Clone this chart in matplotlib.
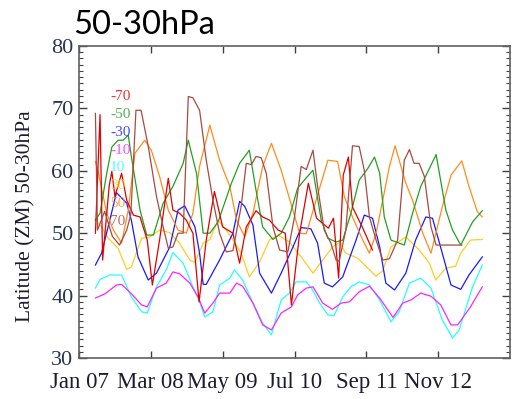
import numpy as np
import matplotlib
matplotlib.use("Agg")
import matplotlib.pyplot as plt
from matplotlib.ticker import MultipleLocator

# months since Jan 2007
m_n70 = [3.2, 4.1, 4.6, 5.9, 6.4, 7.0, 8.3, 9.3, 10.6, 11.9, 13.3, 14.3, 15.7, 17.4, 18.3, 19.6, 20.9, 22.2,
         23.4, 24.8, 26.4, 28.0, 30.0, 31.3, 32.6, 34.5, 35.8, 37.1, 38.8, 40.2, 41.4, 43.0, 44.7, 46.3,
         48.6, 49.6, 50.6, 51.5, 52.5, 53.3, 55.2, 57.2]
v_n70 = [50.0, 69.0, 45.7, 57.7, 59.9, 55.9, 59.6, 55.3, 52.9, 52.6, 48.9, 41.7, 48.9, 58.8, 53.7, 53.2, 52.1, 50.0,
         39.0, 48.9, 56.7, 51.0, 50.0, 45.2, 51.0, 53.6, 52.6, 52.1, 50.5, 50.0, 38.5, 50.0, 58.0, 52.4,
         50.8, 52.4, 42.8, 59.3, 62.2, 54.2, 51.0, 47.3]

m_n50 = [3.2, 4.1, 5.4, 6.4, 7.6, 8.6, 9.6, 10.2, 11.9, 13.2, 14.5, 16.4, 18.3, 20.3, 21.3, 22.9, 24.2, 25.5,
         27.1, 29.7, 31.3, 33.2, 34.5, 35.8, 37.8, 39.4, 41.0, 42.6, 43.9, 45.6, 47.2, 48.5, 50.1, 51.4,
         53.0, 54.6, 56.3, 57.6, 58.6, 59.5, 60.8, 63.4, 65.0, 66.6, 69.6, 71.5, 72.8, 74.4, 76.7, 78.6]
v_n50 = [52.1, 53.2, 59.6, 63.8, 64.9, 64.9, 65.7, 62.3, 53.7, 49.7, 49.7, 54.8, 57.5, 61.2, 64.9, 59.6, 50.0, 50.0,
         51.8, 58.0, 61.2, 63.3, 56.9, 51.0, 49.0, 50.0, 52.6, 57.2, 58.5, 60.1, 52.1, 49.2, 48.6, 48.9,
         53.2, 58.5, 60.4, 62.2, 59.6, 52.6, 48.9, 48.1, 53.2, 57.5, 62.6, 53.7, 50.5, 48.1, 51.8, 53.6]

m_n30 = [3.2, 4.4, 6.0, 7.3, 9.3, 10.2, 11.5, 13.5, 15.1, 17.7, 19.3, 20.6, 22.6, 23.5, 24.2, 24.8, 27.4, 30.0,
         31.3, 32.3, 33.9, 35.2, 37.5, 39.4, 41.7, 43.3, 45.2, 46.5, 47.8, 49.4, 51.4, 54.0, 55.6, 57.2,
         58.6, 59.8, 61.5, 63.7, 65.6, 67.6, 68.9, 70.8, 72.5, 74.4, 76.0, 78.6]
v_n30 = [44.9, 46.8, 52.1, 56.5, 54.8, 52.1, 46.2, 42.5, 43.6, 47.8, 53.7, 54.4, 51.0, 46.8, 41.8, 41.8, 45.7, 50.0,
         55.1, 54.3, 51.3, 43.6, 40.4, 43.6, 47.8, 50.9, 50.7, 48.4, 42.0, 41.4, 43.0, 48.9, 52.9, 52.4,
         47.8, 42.0, 40.9, 43.6, 48.9, 52.6, 52.4, 46.8, 41.7, 41.0, 43.3, 46.2]

m_n10 = [3.2, 5.1, 7.3, 8.3, 10.2, 12.2, 13.3, 15.1, 17.0, 18.3, 19.6, 21.6, 23.2, 24.5, 26.1, 27.4, 29.4, 30.7,
         31.9, 33.9, 35.8, 37.5, 39.4, 41.4, 42.6, 44.3, 45.6, 47.5, 49.4, 51.1, 52.7, 54.6, 56.6, 58.6,
         61.2, 63.1, 64.7, 66.6, 68.6, 70.5, 72.5, 73.8, 76.3, 78.6]
v_n10 = [39.6, 40.3, 41.7, 41.8, 40.3, 38.5, 38.2, 41.2, 42.0, 43.8, 43.5, 42.0, 39.8, 37.2, 38.8, 40.4, 40.4, 42.0,
         41.5, 38.8, 35.3, 34.5, 37.2, 38.2, 40.1, 41.2, 41.4, 38.8, 37.8, 38.8, 39.0, 40.6, 41.5, 39.6,
         36.5, 38.8, 39.3, 40.4, 39.9, 38.5, 35.3, 35.3, 38.2, 41.4]

m_p10 = [3.2, 4.1, 6.0, 8.3, 10.2, 12.2, 13.3, 15.1, 17.0, 18.3, 20.3, 22.2, 23.5, 24.5, 26.1, 27.4, 29.4, 30.3,
         31.9, 33.9, 35.8, 37.5, 39.4, 41.0, 42.3, 44.3, 45.3, 46.9, 48.5, 49.7, 51.4, 53.0, 54.6, 56.6,
         58.6, 60.8, 62.4, 64.4, 66.6, 68.6, 70.8, 72.8, 74.1, 76.7, 78.6]
v_p10 = [41.2, 42.6, 43.3, 43.3, 39.8, 37.4, 37.2, 41.4, 44.1, 46.9, 45.2, 41.4, 39.0, 36.6, 37.4, 41.7, 42.8, 44.1,
         42.5, 38.8, 35.6, 33.7, 39.3, 40.4, 42.2, 42.2, 41.2, 38.8, 36.9, 36.8, 39.8, 41.4, 42.2, 41.7,
         39.3, 35.8, 37.4, 42.0, 42.8, 41.2, 36.1, 33.2, 34.5, 41.4, 44.9]

m_p30 = [3.2, 4.4, 5.7, 7.6, 9.3, 10.2, 12.2, 13.8, 15.7, 17.7, 19.6, 21.6, 22.6, 24.2, 25.5, 27.1, 28.7, 30.0,
         31.6, 33.2, 35.2, 37.1, 38.8, 41.0, 43.3, 45.6, 47.5, 49.4, 50.8, 52.0, 54.3, 56.3, 57.9, 59.2,
         60.8, 63.7, 66.3, 68.3, 69.5, 71.5, 73.4, 74.4, 76.3, 78.6]
v_p30 = [52.1, 51.0, 49.2, 47.6, 44.2, 44.6, 49.2, 49.4, 50.5, 50.1, 48.4, 45.7, 45.3, 48.4, 49.0, 52.1, 50.5, 48.9,
         46.8, 43.0, 45.4, 48.9, 49.7, 48.6, 46.2, 43.6, 45.7, 47.8, 48.5, 46.8, 46.0, 44.4, 43.1, 44.0,
         47.8, 49.4, 47.3, 45.2, 42.5, 44.4, 44.7, 46.8, 48.9, 49.0]

m_p50 = [3.2, 3.8, 5.4, 6.7, 8.3, 9.6, 10.9, 12.8, 14.1, 15.7, 17.4, 19.3, 20.9, 22.2, 23.5, 25.5, 27.4, 29.4,
         30.7, 32.3, 33.9, 35.8, 37.5, 39.4, 41.0, 43.0, 44.3, 46.2, 48.5, 50.4, 51.7, 53.3, 55.3, 56.6,
         57.9, 59.2, 60.5, 61.6, 63.7, 65.0, 67.0, 68.6, 70.8, 72.5, 74.6, 76.0, 77.6, 78.6]
v_p50 = [61.5, 59.6, 53.2, 50.5, 48.4, 53.7, 62.8, 64.9, 63.3, 59.1, 53.7, 50.5, 50.0, 53.2, 60.7, 67.3, 61.7, 57.5,
         52.1, 49.4, 53.2, 60.7, 64.4, 60.1, 55.6, 50.0, 49.9, 55.3, 61.7, 61.5, 55.9, 52.6, 48.9, 46.8,
         50.0, 55.3, 60.7, 64.0, 58.0, 55.3, 50.0, 46.8, 54.2, 59.3, 61.6, 57.5, 53.5, 52.6]

m_p70 = [3.2, 3.6, 5.0, 6.5, 7.9, 9.3, 10.1, 11.1, 12.1, 13.5, 15.1, 16.4, 17.4, 18.3, 19.3, 20.3, 21.3, 22.2,
         23.5, 24.8, 26.1, 27.4, 28.7, 30.0, 31.6, 32.6, 33.6, 34.5, 35.5, 36.5, 37.8, 39.1, 40.7, 42.0,
         43.3, 44.3, 45.6, 46.5, 47.8, 49.1, 50.1, 50.7, 52.0, 53.3, 54.6, 55.6, 56.6, 57.9, 59.2, 60.5,
         62.1, 63.4, 64.4, 65.3, 66.3, 67.3, 68.6, 69.6, 74.6]
v_p70 = [69.2, 50.5, 53.5, 49.5, 48.1, 50.5, 53.0, 69.7, 69.7, 63.9, 55.9, 51.0, 47.6, 47.8, 50.0, 50.0, 71.9, 71.7,
         69.7, 61.7, 55.3, 50.0, 47.0, 47.2, 54.3, 61.2, 61.0, 62.3, 62.1, 59.6, 51.0, 47.3, 47.0, 52.6,
         60.7, 60.2, 63.3, 57.5, 50.5, 48.4, 45.7, 45.5, 50.5, 64.0, 63.9, 60.1, 52.6, 48.9, 45.7, 45.9,
         48.9, 61.7, 63.4, 61.2, 61.2, 59.1, 51.0, 48.1, 48.1]

labels = ["-70", "-50", "-30", "-10", "10", "30", "50", "70"]
colors = ["#e00000", "#22a022", "#1a1aff", "#ff22ff", "#22ffff", "#ffcc22", "#ff8c1a", "#a84a40"]
xs = [m_n70, m_n50, m_n30, m_n10, m_p10, m_p30, m_p50, m_p70]
ys = [v_n70, v_n50, v_n30, v_n10, v_p10, v_p30, v_p50, v_p70]

tick_pos = [0, 14, 28, 42, 56, 70]
tick_labs = ["Jan 07", "Mar 08", "May 09", "Jul 10", "Sep 11", "Nov 12"]

fig = plt.figure(figsize=(5.13, 3.99), dpi=100)
ax = fig.add_axes([79/513, 41/399, 431/513, 312/399])

# draw back to front so the brown/red sit on top like the reference
for i in [4, 3, 5, 2, 6, 1, 0, 7]:
    ax.plot(xs[i], ys[i], color=colors[i], lw=0.9)

for i, lab in enumerate(labels):
    ax.text(0.072, 0.837 - i*0.057, lab, transform=ax.transAxes, color=colors[i],
            fontsize=11, family="Liberation Serif", va="center", ha="left", alpha=0.8)

ax.set_xlim(0, 84)
ax.set_ylim(30, 80)
ax.set_xticks(tick_pos)
ax.set_xticklabels(tick_labs)
ax.yaxis.set_major_locator(MultipleLocator(10))
ax.yaxis.set_minor_locator(MultipleLocator(1))

txtcol = "#1c1c30"
for lab in ax.get_xticklabels():
    lab.set_family("Liberation Serif")
    lab.set_fontsize(16.5)
    lab.set_color(txtcol)
for lab in ax.get_yticklabels():
    lab.set_family("Liberation Serif")
    lab.set_fontsize(16)
    lab.set_color("#2a3550")

ax.tick_params(axis="both", which="both", direction="in", top=True, right=True, color="#404040")
ax.tick_params(axis="y", which="major", length=6, width=1.0, pad=4)
ax.tick_params(axis="y", which="minor", length=3, width=0.8)
ax.tick_params(axis="x", which="major", length=5, width=1.0, pad=10)
for s in ax.spines.values():
    s.set_color("#606060")
    s.set_linewidth(1.2)

fig.text(26/513, 0.458, "Latitude (ZM) 50-30hPa", rotation=90, ha="center", va="center",
         family="Liberation Serif", fontsize=15.5, color=txtcol)
fig.text(73/513, 1 - 34/399, "50-30hPa", family="Lato", fontsize=23.5, ha="left", va="baseline",
         color="black")

fig.savefig("out.png", dpi=100)
